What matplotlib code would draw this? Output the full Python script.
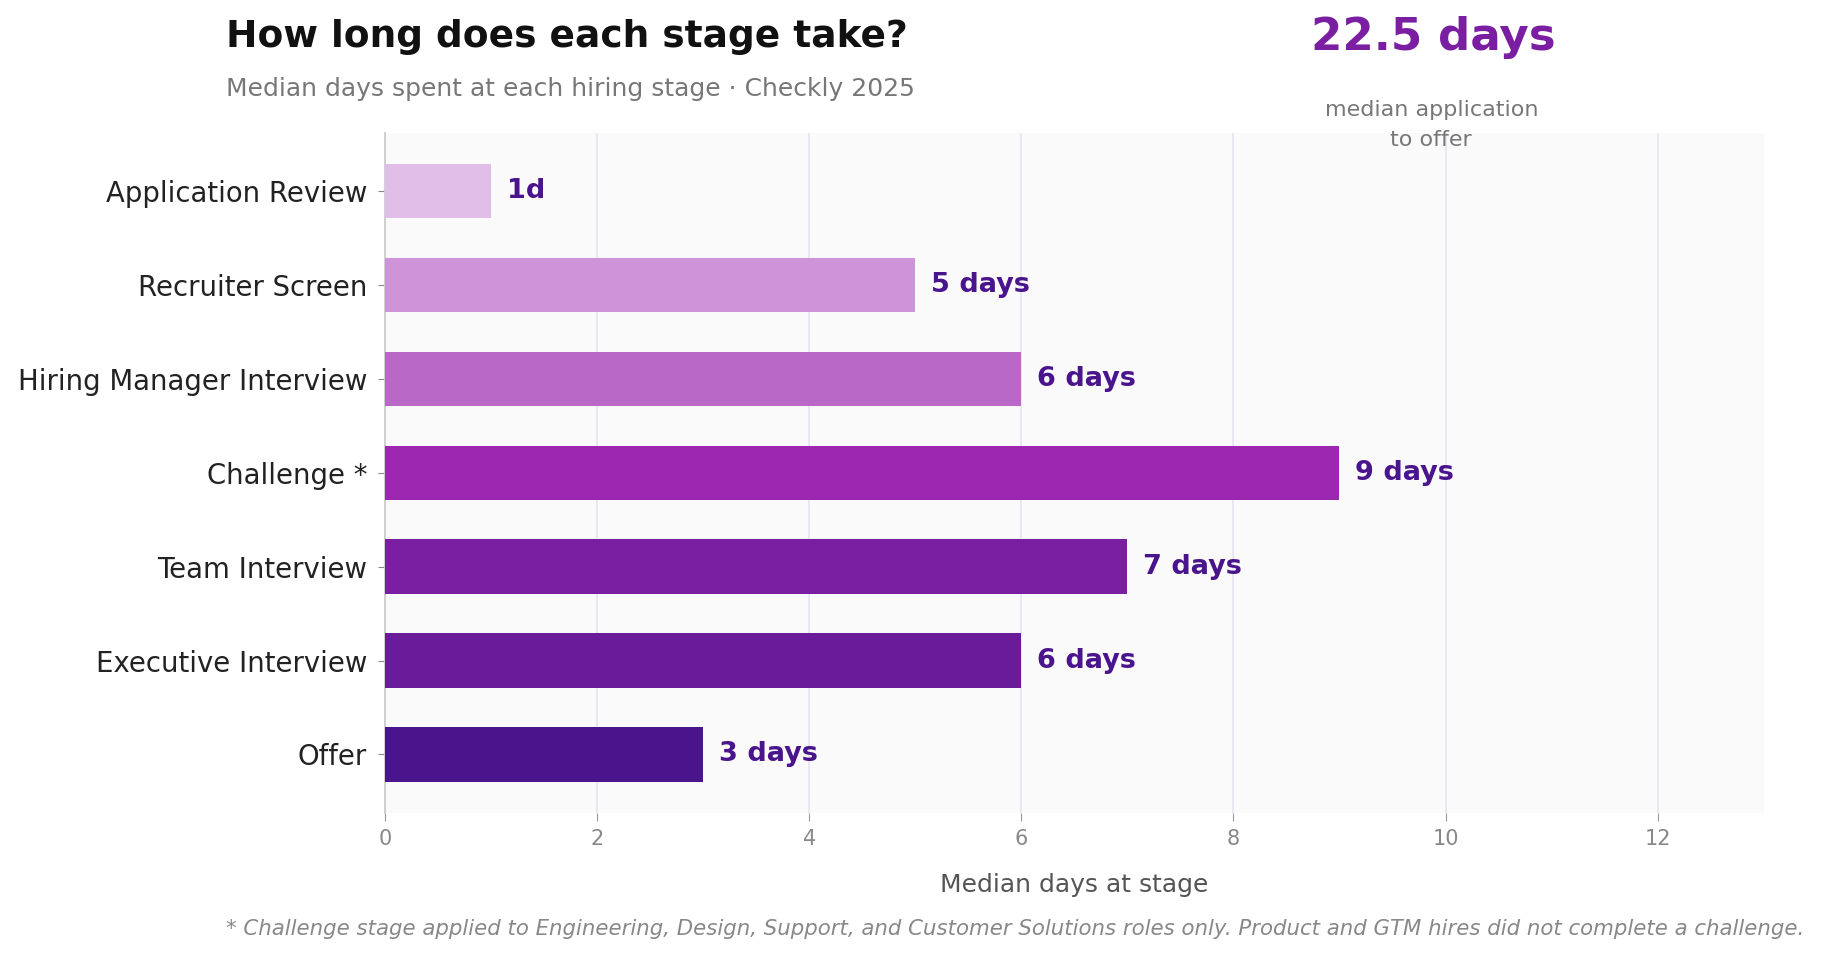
import matplotlib.pyplot as plt

# hiring stage data (median days)
stages = ["Application Review", "Recruiter Screen", "Hiring Manager Interview",
          "Challenge *", "Team Interview", "Executive Interview", "Offer"]
days = [1, 5, 6, 9, 7, 6, 3]
day_labels = ["1d", "5 days", "6 days", "9 days", "7 days", "6 days", "3 days"]
bar_colors = ["#E1BEE7", "#CE93D8", "#BA68C8", "#9C27B0", "#7B1FA2", "#6A1B9A", "#4A148C"]
x_ticks = [0, 2, 4, 6, 8, 10, 12]
total_median = "22.5 days"


def main():
	plt.rcParams['font.family'] = ['DejaVu Sans']
	fig = plt.figure(figsize=(18.21, 9.56), dpi=100)
	ax = fig.add_axes([0.2115, 0.150, 0.757, 0.711])
	ax.set_facecolor("#FAFAFA")

	ypos = list(range(len(stages)))
	ax.barh(ypos, days, height=0.58, color=bar_colors, zorder=3)
	ax.invert_yaxis()

	for y, v, lab in zip(ypos, days, day_labels):
		ax.text(v + 0.15, y, lab, va="center", ha="left", fontsize=19.5,
				fontweight="bold", color="#4A148C", zorder=4)

	ax.set_xlim(0, 13)
	ax.set_xticks(x_ticks)
	ax.set_yticks(ypos)
	ax.set_yticklabels(stages, fontsize=19.8, color="#222222")
	ax.tick_params(axis="x", labelsize=15, labelcolor="#888888", color="#999999",
				   length=6, pad=6)
	ax.tick_params(axis="y", color="#888888", length=5, pad=8)
	ax.grid(axis="x", color="#E6E4F2", linewidth=1.2, zorder=0)
	ax.set_axisbelow(True)

	for s in ["top", "right", "bottom"]:
		ax.spines[s].set_visible(False)
	ax.spines["left"].set_color("#CCCCCC")
	ax.spines["left"].set_linewidth(1.3)

	ax.set_xlabel("Median days at stage", fontsize=18, color="#555555", labelpad=17)

	fig.text(0.124, 0.951, "How long does each stage take?", fontsize=27,
			 fontweight="bold", color="#111111", ha="left", va="baseline")
	fig.text(0.124, 0.900, "Median days spent at each hiring stage · Checkly 2025",
			 fontsize=18, color="#777777", ha="left", va="baseline")
	fig.text(0.787, 0.9475, total_median, fontsize=32.5, fontweight="bold",
			 color="#7B1FA2", ha="center", va="baseline")
	fig.text(0.786, 0.847, "median application\nto offer", fontsize=16,
			 color="#777777", ha="center", va="baseline", linespacing=1.65)
	fig.text(0.124, 0.022,
			 "* Challenge stage applied to Engineering, Design, Support, and Customer Solutions roles only. "
			 "Product and GTM hires did not complete a challenge.",
			 fontsize=15.3, style="italic", color="#888888", ha="left", va="baseline")

	fig.savefig("out.png", dpi=100, facecolor="white")


if __name__ == '__main__':
	main()
